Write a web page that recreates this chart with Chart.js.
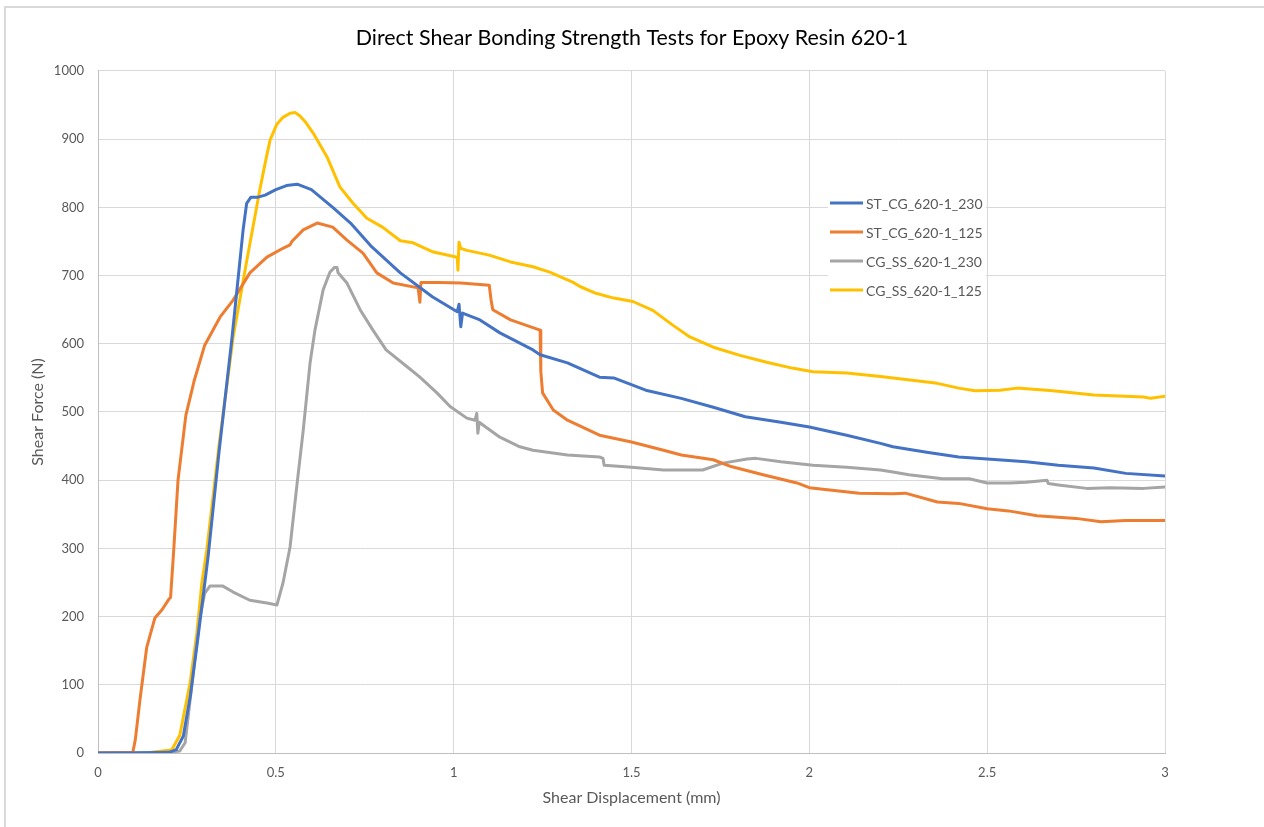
<!DOCTYPE html>
<html>
<head>
<meta charset="utf-8">
<title>Direct Shear Bonding Strength Tests for Epoxy Resin 620-1</title>
<script src="https://cdn.jsdelivr.net/npm/chart.js@4/dist/chart.umd.min.js"></script>
<style>
  html, body { margin: 0; padding: 0; background: #ffffff; }
  #wrap { position: relative; width: 1264px; height: 827px; }
  canvas { display: block; }
</style>
</head>
<body>
<div id="wrap"><canvas id="chart" width="1264" height="827"></canvas></div>
<script>
// Shear displacement (mm) and shear force (N) for each specimen
const st230Disp  = [0, 0.1, 0.2, 0.22, 0.24, 0.26, 0.28, 0.31, 0.34, 0.377, 0.408, 0.418, 0.43, 0.45, 0.47, 0.5, 0.53, 0.56, 0.6, 0.66, 0.71, 0.77, 0.85, 0.94, 1.01, 1.015, 1.02, 1.025, 1.074, 1.13, 1.223, 1.243, 1.32, 1.41, 1.45, 1.54, 1.64, 1.73, 1.82, 1.92, 2.0, 2.105, 2.2, 2.235, 2.33, 2.42, 2.5, 2.61, 2.7, 2.8, 2.89, 3.0];
const st230Force = [0, 0, 1, 5, 25, 85, 165, 290, 440, 610, 767, 806, 815, 815, 818, 826, 832, 834, 826, 800, 777, 742, 704, 669, 647, 658, 625, 645, 635, 616, 591, 584, 572, 551, 550, 532, 520, 507, 493, 485, 478, 466, 454, 449, 441, 434, 431, 427, 422, 418, 410, 406];

const st125Disp  = [0, 0.098, 0.105, 0.118, 0.137, 0.16, 0.18, 0.2, 0.204, 0.212, 0.225, 0.247, 0.27, 0.3, 0.315, 0.343, 0.38, 0.427, 0.475, 0.52, 0.54, 0.545, 0.577, 0.616, 0.66, 0.7, 0.745, 0.784, 0.83, 0.9, 0.905, 0.908, 0.96, 1.02, 1.1, 1.105, 1.11, 1.16, 1.243, 1.245, 1.25, 1.28, 1.32, 1.41, 1.5, 1.59, 1.64, 1.73, 1.78, 1.87, 1.965, 2.0, 2.14, 2.235, 2.27, 2.36, 2.42, 2.5, 2.56, 2.64, 2.75, 2.82, 2.89, 3.0];
const st125Force = [0, 1, 20, 78, 155, 198, 210, 226, 228, 290, 400, 495, 545, 598, 612, 639, 664, 704, 727, 740, 745, 750, 767, 777, 771, 752, 733, 704, 689, 682, 661, 690, 690, 689, 686, 665, 650, 635, 620, 560, 528, 503, 488, 466, 456, 444, 437, 430, 420, 408, 396, 389, 381, 380, 381, 368, 366, 358, 355, 348, 344, 339, 341, 341];

const ss230Disp  = [0, 0.2, 0.23, 0.245, 0.259, 0.275, 0.287, 0.3, 0.315, 0.35, 0.38, 0.427, 0.475, 0.503, 0.52, 0.54, 0.56, 0.577, 0.596, 0.61, 0.633, 0.652, 0.665, 0.672, 0.675, 0.7, 0.737, 0.773, 0.81, 0.87, 0.905, 0.953, 0.99, 1.037, 1.06, 1.065, 1.068, 1.072, 1.09, 1.13, 1.186, 1.223, 1.32, 1.41, 1.42, 1.423, 1.5, 1.59, 1.7, 1.757, 1.825, 1.85, 1.92, 2.01, 2.105, 2.2, 2.235, 2.28, 2.375, 2.45, 2.5, 2.564, 2.61, 2.668, 2.672, 2.7, 2.78, 2.845, 2.94, 3.0];
const ss230Force = [0, 1, 3, 15, 78, 150, 200, 234, 245, 245, 236, 224, 220, 217, 249, 302, 396, 473, 571, 620, 679, 705, 712, 712, 704, 689, 650, 620, 591, 566, 551, 528, 508, 491, 488, 498, 469, 485, 478, 463, 449, 444, 437, 434, 432, 422, 419, 415, 415, 425, 431, 432, 427, 422, 419, 415, 412, 408, 402, 402, 396, 396, 397, 400, 395, 393, 388, 389, 388, 390];

const ss125Disp  = [0, 0.15, 0.2, 0.208, 0.23, 0.259, 0.278, 0.292, 0.306, 0.34, 0.38, 0.42, 0.455, 0.472, 0.484, 0.503, 0.52, 0.54, 0.555, 0.568, 0.585, 0.605, 0.644, 0.68, 0.717, 0.756, 0.8, 0.85, 0.886, 0.94, 1.01, 1.012, 1.015, 1.02, 1.037, 1.1, 1.16, 1.223, 1.27, 1.336, 1.355, 1.4, 1.45, 1.504, 1.56, 1.617, 1.664, 1.73, 1.805, 1.88, 1.955, 2.01, 2.105, 2.2, 2.36, 2.42, 2.466, 2.536, 2.584, 2.685, 2.8, 2.94, 2.96, 3.0];
const ss125Force = [0, 1, 4, 5, 26, 103, 176, 249, 298, 450, 610, 727, 826, 870, 899, 922, 932, 938, 939, 934, 924, 909, 874, 830, 806, 784, 771, 751, 748, 735, 727, 708, 749, 740, 737, 730, 720, 713, 705, 690, 684, 674, 667, 662, 649, 627, 610, 595, 583, 573, 564, 559, 557, 552, 542, 535, 531, 532, 535, 531, 525, 522, 520, 523];

const seriesNames  = ['ST_CG_620-1_230', 'ST_CG_620-1_125', 'CG_SS_620-1_230', 'CG_SS_620-1_125'];
const seriesColors = ['#4472C4', '#ED7D31', '#A5A5A5', '#FFC000'];

const xTicks = [0, 0.5, 1, 1.5, 2, 2.5, 3];
const yTicks = [0, 100, 200, 300, 400, 500, 600, 700, 800, 900, 1000];

const pairUp = (xs, ys) => xs.map((x, i) => ({ x: x, y: ys[i] }));
const seriesData = [
  pairUp(st230Disp, st230Force),
  pairUp(st125Disp, st125Force),
  pairUp(ss230Disp, ss230Force),
  pairUp(ss125Disp, ss125Force)
];

const FONT = 'Lato, "Noto Sans", "Liberation Sans", sans-serif';
const TEXT_GREY = '#595959';
const GRID = '#d9d9d9';

// Thin frame around the whole chart object
const frame = {
  id: 'frame',
  beforeDraw(chart) {
    const ctx = chart.ctx;
    ctx.save();
    ctx.fillStyle = '#ffffff';
    ctx.fillRect(0, 0, chart.width, chart.height);
    ctx.strokeStyle = '#d9d9d9';
    ctx.lineWidth = 2;
    ctx.beginPath();
    ctx.moveTo(5, chart.height);
    ctx.lineTo(5, 7);
    ctx.lineTo(chart.width, 7);
    ctx.stroke();
    ctx.restore();
  }
};

// Legend box inside the plot area, to the right
const insideLegend = {
  id: 'insideLegend',
  beforeDatasetsDraw(chart) {
    const ctx = chart.ctx;
    ctx.save();
    ctx.fillStyle = '#ffffff';
    ctx.fillRect(828, 190, 158, 114);
    ctx.restore();
  },
  afterDatasetsDraw(chart) {
    const ctx = chart.ctx;
    ctx.save();
    ctx.font = '14px ' + FONT;
    ctx.textBaseline = 'middle';
    ctx.textAlign = 'left';
    chart.data.datasets.forEach((ds, i) => {
      const y = 203 + i * 29;
      ctx.strokeStyle = ds.borderColor;
      ctx.lineWidth = 3;
      ctx.beginPath();
      ctx.moveTo(830, y);
      ctx.lineTo(863, y);
      ctx.stroke();
      ctx.fillStyle = TEXT_GREY;
      ctx.fillText(ds.label, 866, y + 1);
    });
    ctx.restore();
  }
};

new Chart(document.getElementById('chart'), {
  type: 'line',
  data: {
    datasets: seriesData.map((pts, i) => ({
      label: seriesNames[i],
      data: pts,
      borderColor: seriesColors[i],
      backgroundColor: seriesColors[i],
      borderWidth: 3,
      borderJoinStyle: 'round',
      borderCapStyle: 'round',
      pointRadius: 0,
      tension: 0,
      fill: false
    }))
  },
  options: {
    responsive: false,
    animation: false,
    events: [],
    layout: { padding: 0 },
    plugins: {
      legend: { display: false },
      tooltip: { enabled: false },
      title: {
        display: true,
        text: 'Direct Shear Bonding Strength Tests for Epoxy Resin 620-1',
        color: '#000000',
        font: { family: FONT, size: 21.4, weight: 'normal', lineHeight: 1.2 },
        padding: { top: 25.5, bottom: 19.8 }
      }
    },
    scales: {
      x: {
        type: 'linear',
        min: 0,
        max: 3,
        afterFit(scale) { scale.height = 74; },
        afterBuildTicks(scale) { scale.ticks = xTicks.map(v => ({ value: v })); },
        grid: { color: GRID, lineWidth: 1, drawTicks: false },
        border: { color: '#bfbfbf', width: 1 },
        ticks: {
          padding: 12,
          color: TEXT_GREY,
          font: { family: FONT, size: 13 },
          callback: v => String(v)
        },
        title: {
          display: true,
          text: 'Shear Displacement (mm)',
          color: TEXT_GREY,
          font: { family: FONT, size: 16, lineHeight: 1.2 },
          padding: { top: 0, bottom: 19.4 }
        }
      },
      y: {
        type: 'linear',
        min: 0,
        max: 1000,
        afterFit(scale) { scale.width = 98; },
        afterBuildTicks(scale) { scale.ticks = yTicks.map(v => ({ value: v })); },
        grid: { color: GRID, lineWidth: 1, drawTicks: false },
        border: { color: '#bfbfbf', width: 1 },
        ticks: {
          padding: 14,
          color: TEXT_GREY,
          font: { family: FONT, size: 13 },
          callback: v => String(v)
        },
        title: {
          display: true,
          text: 'Shear Force (N)',
          color: TEXT_GREY,
          font: { family: FONT, size: 16, lineHeight: 1.2 },
          padding: { top: 28.4, bottom: 0 }
        }
      },
      // empty margin to the right of the plot area
      yRight: {
        type: 'linear',
        position: 'right',
        min: 0,
        max: 1000,
        afterFit(scale) { scale.width = 99; },
        grid: { display: false, drawOnChartArea: false },
        border: { display: false },
        ticks: { display: false }
      }
    }
  },
  plugins: [frame, insideLegend]
});
</script>
</body>
</html>
